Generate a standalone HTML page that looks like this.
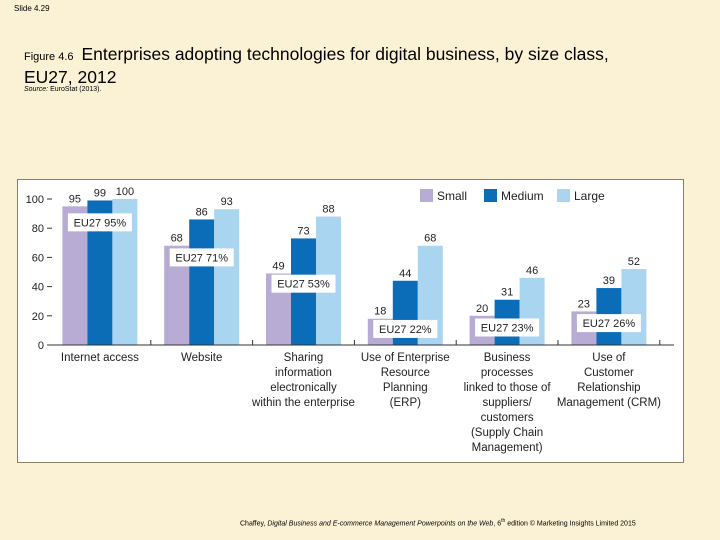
<!DOCTYPE html>
<html><head><meta charset="utf-8"><style>
body{margin:0;width:720px;height:540px;background:#fbf1d4;font-family:"Liberation Sans",sans-serif;position:relative;overflow:hidden}
.abs{position:absolute}
</style></head><body>
<div class="abs" style="left:14px;top:4px;font-size:8px">Slide 4.29</div>
<div class="abs" style="left:24px;top:44px;font-size:17.5px;line-height:20px;width:615px"><span style="font-size:11px">Figure 4.6 </span>&nbsp;Enterprises adopting technologies for digital business, by size class, EU27, 2012</div>
<div class="abs" style="left:24px;top:86px;font-size:7px"><i>Source:</i> EuroStat (2013).</div>
<svg class="abs" style="left:0;top:0" width="720" height="540" id="chart">
<rect x="17.5" y="179.5" width="666" height="283" fill="#fff" stroke="#8a8060"/>
</svg>
<div class="abs" style="left:240px;top:518px;font-size:7px">Chaffey, <i>Digital Business and E-commerce Management Powerpoints on the Web</i>, 6<sup style="font-size:5px">th</sup> edition © Marketing Insights Limited 2015</div>
<script>
const categories=[["Internet access"],["Website"],["Sharing","information","electronically","within the enterprise"],["Use of Enterprise","Resource","Planning","(ERP)"],["Business","processes","linked to those of","suppliers/","customers","(Supply Chain","Management)"],["Use of","Customer","Relationship","Management (CRM)"]];
const small=[95,68,49,18,20,23];
const medium=[99,86,73,44,31,39];
const large=[100,93,88,68,46,52];
const eu27=[95,71,53,22,23,26];
const ticks=[0,20,40,60,80,100];
const seriesNames=["Small","Medium","Large"];
const colors=["#b8acd4","#0b6cb7","#aad5f1"];
const svg=document.getElementById('chart');const NS="http://www.w3.org/2000/svg";
const y0=345,ppu=1.46,gx0=49,gw=101.8,bw=25;
const Y=v=>y0-v*ppu;const gc=i=>gx0+gw*i+gw/2;
function mk(t,a,txt){const e=document.createElementNS(NS,t);for(const k in a)e.setAttribute(k,a[k]);if(txt!==undefined)e.textContent=txt;svg.appendChild(e);return e;}
ticks.forEach(t=>{
const tl=mk('text',{x:44,y:Y(t)+4,'text-anchor':'end','font-size':11,fill:'#222'},t);


mk('line',{x1:47,x2:52,y1:Y(t),y2:Y(t),stroke:'#333'});
});
const series=[small,medium,large];
categories.forEach((c,i)=>{
series.forEach((s,j)=>{
const x=gc(i)-37.5+j*bw;
const r=mk('rect',{x:x,y:Y(s[i]),width:bw,height:s[i]*ppu,fill:colors[j]});


const t=mk('text',{x:x+bw/2,y:Y(s[i])-4,'text-anchor':'middle','font-size':11,fill:'#222'},s[i]);


});
const ly=Y(Math.max(eu27[i]-11,10));
const b=mk('rect',{x:gc(i)-32,y:ly-9,width:64,height:18,fill:'#fff'});


const et=mk('text',{x:gc(i),y:ly+4,'text-anchor':'middle','font-size':11,fill:'#222'},'EU27 '+eu27[i]+'%');


c.forEach((ln,k)=>{
const ct=mk('text',{x:gc(i),y:361+k*15,'text-anchor':'middle','font-size':11.5,fill:'#222'},ln);


});
mk('line',{x1:gx0+gw*(i+1),x2:gx0+gw*(i+1),y1:y0-5,y2:y0,stroke:'#333'});
});
mk('line',{x1:52,x2:674,y1:y0,y2:y0,stroke:'#333'});
const lx=[420,484,557];
seriesNames.forEach((n,j)=>{
const r=mk('rect',{x:lx[j],y:189,width:13,height:13,fill:colors[j]});


const t=mk('text',{x:lx[j]+17,y:200,'font-size':12,fill:'#222'},n);


});
</script>
</body></html>
